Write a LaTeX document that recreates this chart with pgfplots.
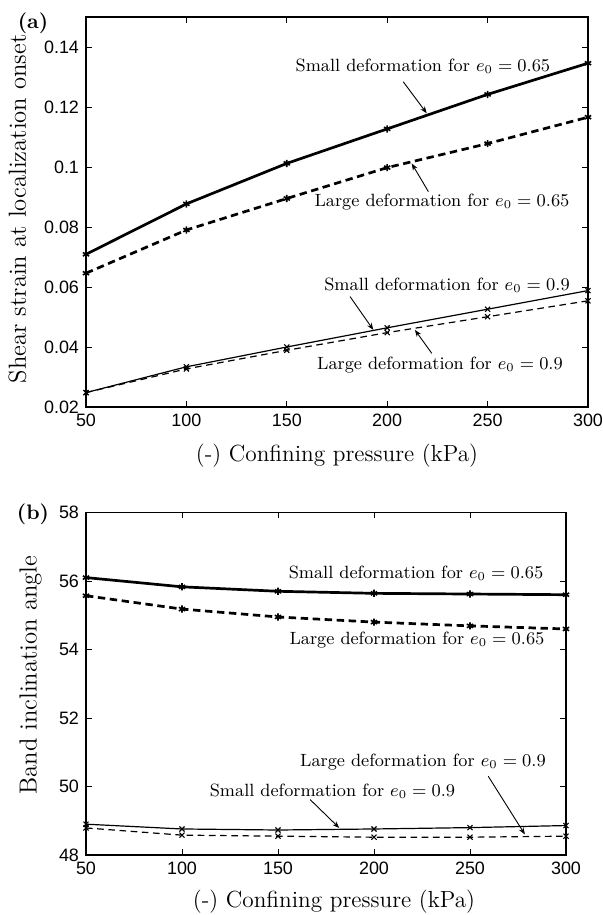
\documentclass[border=0pt]{standalone}
\usepackage{fontspec}
\usepackage{pgfplots}
\pgfplotsset{compat=1.18}
\usetikzlibrary{arrows.meta}
\newfontfamily\tickfont{Liberation Sans}
\newcommand\annfont{\fontsize{8.9}{10}\selectfont}

\pgfplotsset{
  thickline/.style={line width=1.35bp, mark=asterisk, mark size=1.8bp, mark options={solid, line width=0.8bp}},
  thinline/.style={line width=0.6bp, mark=x, mark size=1.8bp, mark options={solid, line width=0.55bp}},
  thickdash/.style={dash pattern=on 3.7bp off 2.3bp},
  thindash/.style={dash pattern=on 3.3bp off 2.3bp},
  mystyle/.style={
    scale only axis, anchor=south west, clip=false,
    xmin=50, xmax=300,
    xtick={50,100,150,200,250,300},
    xticklabels={50,100,150,200,250,300},
    tick align=inside, xtick pos=both, ytick pos=both,
    major tick length=2.8bp,
    every tick/.style={black, line width=0.5bp},
    axis line style={line width=0.75bp},
    tick label style={font=\tickfont\fontsize{9}{10}\selectfont},
    /pgf/number format/assume math mode=true,
    scaled y ticks=false,
    xlabel style={font=\fontsize{11.7}{13}\selectfont, anchor=center},
    ylabel style={font=\fontsize{12.4}{14}\selectfont, anchor=center},
  }
}
\tikzset{arr/.style={line width=0.45bp, -{Stealth[length=3.5bp,width=2.6bp]}}}

\begin{document}
\begin{tikzpicture}
\path[use as bounding box] (0,0) rectangle (301.5bp,-457.5bp);

% ---------------- (a) ----------------
\begin{axis}[mystyle, at={(43bp,-203.5bp)}, width=251bp, height=195bp,
  ymin=0.02, ymax=0.15,
  ytick={0.02,0.04,0.06,0.08,0.1,0.12,0.14},
  yticklabels={0.02,0.04,0.06,0.08,0.1,0.12,0.14},
  xlabel={(-) Confining pressure (kPa)},
  xlabel style={at={(axis description cs:0.5,0)}, yshift=-24.5bp},
  ylabel={Shear strain at localization onset},
  ylabel style={at={(axis description cs:-0.1365,0.508)}}]
\addplot[thickline] coordinates {(50,0.0709) (100,0.0877) (150,0.1012) (200,0.1127) (250,0.1242) (300,0.1346)};
\addplot[thickline, thickdash] coordinates {(50,0.0646) (100,0.0790) (150,0.0895) (200,0.0998) (250,0.1078) (300,0.1166)};
\addplot[thinline] coordinates {(50,0.0248) (100,0.0334) (150,0.0400) (200,0.0464) (250,0.0526) (300,0.0588)};
\addplot[thinline, thindash] coordinates {(50,0.0248) (100,0.0327) (150,0.0389) (200,0.0448) (250,0.0501) (300,0.0554)};

\node[font=\annfont] at (axis cs:217.8,0.1337) {Small deformation for $e_0=0.65$};
\draw[arr] (axis cs:208,0.1284) -- (axis cs:219.7,0.1179);
\node[font=\annfont] at (axis cs:227.3,0.0884) {Large deformation for $e_0=0.65$};
\draw[arr] (axis cs:220.5,0.0918) -- (axis cs:212.2,0.1012);
\node[font=\annfont] at (axis cs:229.8,0.0607) {Small deformation for $e_0=0.9$};
\draw[arr] (axis cs:181.5,0.0568) -- (axis cs:193.1,0.0457);
\node[font=\annfont] at (axis cs:226.3,0.0340) {Large deformation for $e_0=0.9$};
\draw[arr] (axis cs:222.2,0.0379) -- (axis cs:213.8,0.0457);
\end{axis}

% ---------------- (b) ----------------
\begin{axis}[mystyle, at={(43bp,-427.5bp)}, width=240bp, height=171.25bp,
  ymin=48, ymax=58,
  ytick={48,50,52,54,56,58},
  yticklabels={48,50,52,54,56,58},
  xlabel={(-) Confining pressure (kPa)},
  xlabel style={at={(axis description cs:0.5,0)}, yshift=-23.5bp, xshift=4bp},
  ylabel={Band inclination angle},
  ylabel style={at={(axis description cs:-0.1156,0.525)}}]
\addplot[thickline] coordinates {(50,56.10) (100,55.83) (150,55.70) (200,55.64) (250,55.62) (300,55.60)};
\addplot[thickline, thickdash] coordinates {(50,55.57) (100,55.18) (150,54.95) (200,54.80) (250,54.69) (300,54.60)};
\addplot[thinline] coordinates {(50,48.90) (100,48.76) (150,48.73) (200,48.76) (250,48.80) (300,48.86)};
\addplot[thinline, thindash] coordinates {(50,48.79) (100,48.58) (150,48.55) (200,48.52) (250,48.52) (300,48.55)};

\node[font=\annfont] at (axis cs:221.9,56.23) {Small deformation for $e_0=0.65$};
\node[font=\annfont] at (axis cs:222.4,54.28) {Large deformation for $e_0=0.65$};
\node[font=\annfont] at (axis cs:225.5,50.71) {Large deformation for $e_0=0.9$};
\draw[arr] (axis cs:259.5,50.30) -- (axis cs:278.6,48.60);
\node[font=\annfont] at (axis cs:178.4,49.86) {Small deformation for $e_0=0.9$};
\draw[arr] (axis cs:166.7,49.62) -- (axis cs:181.9,48.79);
\end{axis}

\node[font=\bfseries\fontsize{10.5}{12}\selectfont] at (16.5bp,-11.75bp) {(a)};
\node[font=\bfseries\fontsize{10.5}{12}\selectfont] at (16.5bp,-257.25bp) {(b)};
\end{tikzpicture}
\end{document}
